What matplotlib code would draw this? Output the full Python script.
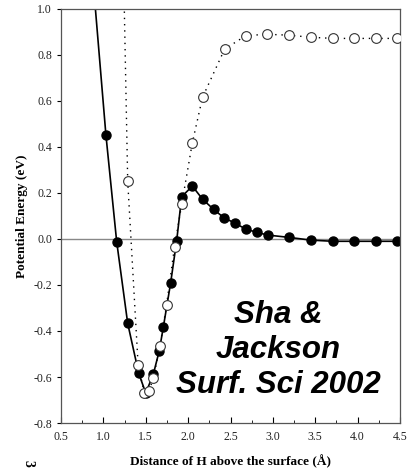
import matplotlib.pyplot as plt
from matplotlib.ticker import MultipleLocator

# H-surface potential energy curves
# solid line / filled circles
x_filled = [0.77, 1.03, 1.157, 1.287, 1.417, 1.50, 1.59, 1.66, 1.707, 1.794, 1.865,
            1.924, 2.05, 2.17, 2.30, 2.42, 2.557, 2.68, 2.81, 2.94, 3.19, 3.45,
            3.71, 3.96, 4.22, 4.47]
e_filled = [1.60, 0.452, -0.012, -0.367, -0.584, -0.67, -0.587, -0.485, -0.384, -0.19, -0.007,
            0.184, 0.23, 0.173, 0.129, 0.093, 0.068, 0.043, 0.029, 0.017, 0.007, -0.005,
            -0.01, -0.01, -0.01, -0.01]

# dotted line / open circles
x_open = [1.157, 1.287, 1.41, 1.483, 1.538, 1.59, 1.668, 1.745, 1.84, 1.924,
          2.05, 2.17, 2.43, 2.68, 2.93, 3.19, 3.45, 3.71, 3.96, 4.22, 4.47]
e_open = [2.68, 0.252, -0.548, -0.669, -0.661, -0.604, -0.465, -0.288, -0.033, 0.15,
          0.419, 0.616, 0.825, 0.884, 0.89, 0.886, 0.877, 0.872, 0.872, 0.872, 0.872]

serif = ['Liberation Serif', 'DejaVu Serif']

fig = plt.figure(figsize=(4.1, 4.72), dpi=100)
ax = fig.add_axes([0.1488, 0.1038, 0.8268, 0.8772])

ax.axhline(0.0, color='#888888', lw=1.0, zorder=1)
ax.plot(x_filled, e_filled, '-o', color='black', lw=1.2, ms=6.5,
        mfc='black', mec='black', zorder=2)
ax.plot(x_open, e_open, linestyle=(0, (1, 3.5)), color='black', lw=1.0,
        marker='o', ms=7, mfc='white', mec='#333333', mew=0.8, zorder=3)

ax.set_xlim(0.5, 4.5)
ax.set_ylim(-0.8, 1.0)
ax.xaxis.set_major_locator(MultipleLocator(0.5))
ax.xaxis.set_minor_locator(MultipleLocator(0.25))
ax.yaxis.set_major_locator(MultipleLocator(0.2))
ax.tick_params(axis='x', direction='in', length=4, width=0.8, labelsize=8.5,
               pad=6, labelcolor='#222222')
ax.tick_params(axis='x', which='minor', direction='in', length=2.5, width=0.6)
ax.tick_params(axis='y', direction='out', length=3, width=0.8, labelsize=8.5,
               labelcolor='#222222')
ax.xaxis.set_major_formatter(plt.FuncFormatter(lambda v, p: '%.1f' % v))
ax.yaxis.set_major_formatter(plt.FuncFormatter(lambda v, p: '%.1f' % v))
for lab in ax.get_xticklabels() + ax.get_yticklabels():
    lab.set_family(serif)
for s in ax.spines.values():
    s.set_color('#555555')
    s.set_linewidth(0.9)

ax.set_xlabel('Distance of H above the surface (Å)', family=serif,
              fontweight='bold', fontsize=9.5, labelpad=8)
ax.set_ylabel('Potential Energy (eV)', family=serif,
              fontweight='bold', fontsize=9.5, labelpad=4)

fig.text(278 / 410, 1 - 350 / 472, 'Sha &\nJackson\nSurf. Sci 2002',
         ha='center', va='center', fontsize=22.5, fontweight='bold',
         fontstyle='italic', family=['Liberation Sans', 'DejaVu Sans'],
         linespacing=1.2)
fig.text(28 / 410, 1 - 463 / 472, '3', rotation=-90, ha='center', va='center',
         fontsize=10, fontweight='bold', family=serif)

fig.savefig('out.png', dpi=100)
